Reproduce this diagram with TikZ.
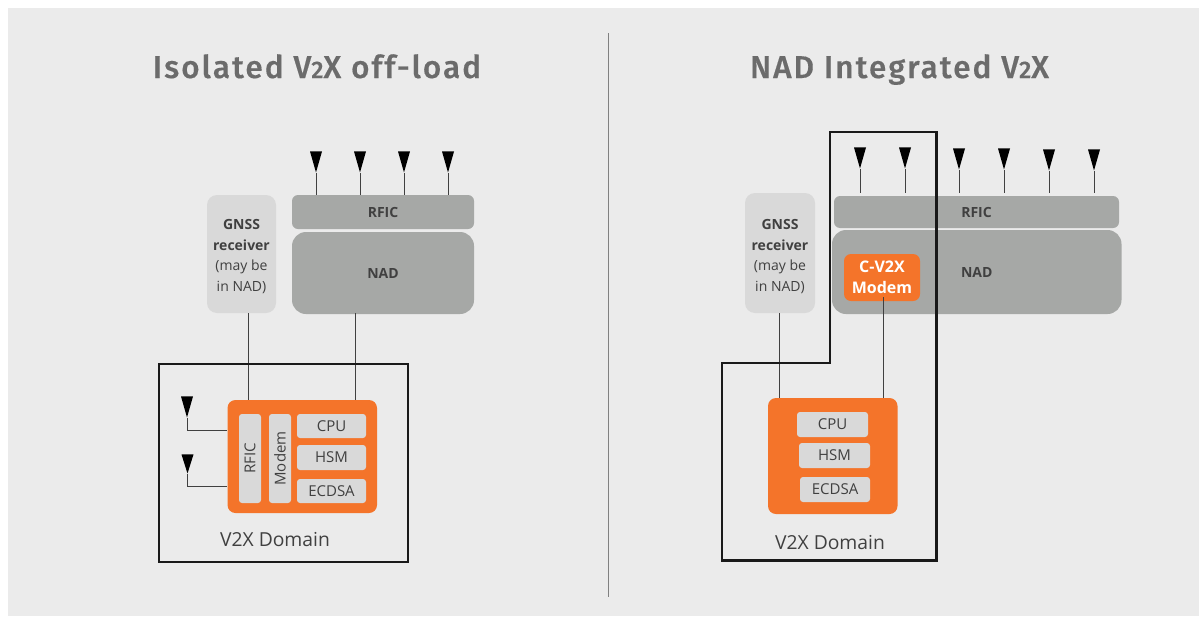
\documentclass[tikz,border=0pt]{standalone}
\usepackage{fontspec}
\setmainfont{Open Sans}
\newfontfamily\titlefont[LetterSpace=6.5,FakeBold=0.4]{Fira Sans Medium}
\usetikzlibrary{shapes.geometric}
\definecolor{panelgray}{HTML}{EBEBEB}
\definecolor{nadgray}{HTML}{A6A8A6}
\definecolor{lightgray}{HTML}{D9D9D9}
\definecolor{socorange}{HTML}{F4742A}
\definecolor{labelgray}{HTML}{404040}
\definecolor{titlegray}{HTML}{6B6B6B}
\newcommand{\smalltwo}{{\fontsize{24}{24}\selectfont 2}}
\tikzset{
    block/.style={rounded corners=#1, inner sep=0pt, align=center, text=labelgray, font=\fontsize{14}{20.5}\selectfont},
    block/.default=6pt,
    part/.style={block=3pt, fill=lightgray, font=\fontsize{15}{18}\selectfont},
    antenna/.style={isosceles triangle, isosceles triangle stretches, shape border rotate=270, fill=black, inner sep=0pt, minimum width=12pt, minimum height=21pt, anchor=apex},
    wire/.style={draw=labelgray, line width=1pt},
    domainbox/.style={draw=black!90, line width=2.8pt},
    heading/.style={font=\titlefont\fontsize{31.5}{34}\selectfont, text=titlegray, anchor=base},
    domainlabel/.style={font=\fontsize{19.3}{22}\selectfont, text=labelgray}
}
\begin{document}
\begin{tikzpicture}[x=1pt,y=-1pt]
    \useasboundingbox (0,0) rectangle (1199,616);
    \fill[panelgray] (8,8) rectangle (1199,616);
    \draw[gray, line width=1pt] (608,33) -- (608,597);
    \node[heading] (titleL) at (317,78) {Isolated V\smalltwo X off-load};
    \node[heading] (titleR) at (899.5,78) {NAD Integrated V\smalltwo X};
    % left part
    \node[block=10pt, fill=lightgray, minimum width=69pt, minimum height=118pt] (gnssL) at (241.5,254) {\rule{0pt}{15.5pt}\textbf{GNSS}\\\textbf{receiver}\\(may be\\in NAD)};
    \node[block, fill=nadgray, minimum width=182pt, minimum height=34pt] (rficL) at (383,212) {\textbf{RFIC}};
    \node[block=14pt, fill=nadgray, minimum width=182pt, minimum height=82pt] (nadL) at (383,273) {\textbf{NAD}};
    \node[block=8pt, fill=socorange, minimum width=149.5pt, minimum height=113pt] (socL) at (302.25,456.5) {};
    \node[part, minimum width=89pt, minimum height=22pt, rotate=90] (rficsmall) at (250,458.5) {RFIC};
    \node[part, minimum width=89pt, minimum height=22pt, rotate=90] (modemL) at (280,458.5) {Modem};
    \node[part, minimum width=69pt, minimum height=24pt] (cpuL) at (331.5,426) {CPU};
    \node[part, minimum width=69pt, minimum height=25pt] (hsmL) at (331.5,457.5) {HSM};
    \node[part, minimum width=69pt, minimum height=24pt] (ecdsaL) at (331.5,491) {ECDSA};
    \node[domainlabel] (domainL) at (275,540) {V2X Domain};
    \coordinate (gnssoutL) at (248,313);
    \coordinate (nadoutL) at (355.5,313);
    \draw[wire] (gnssoutL) -- (gnssoutL |- socL.north);
    \draw[wire] (nadoutL) -- (nadoutL |- socL.north);
    \foreach \i/\x in {1/316,2/360,3/404,4/448} {
        \node[antenna] (antL\i) at (\x,173) {};
        \draw[wire] (antL\i.apex) -- (antL\i.apex |- rficL.north);
    }
    \node[antenna] (antS1) at (187,418) {};
    \node[antenna, minimum height=19pt] (antS2) at (187.5,474) {};
    \draw[wire] (antS1.apex) |- (socL.west |- 0,430);
    \draw[wire] (antS2.apex) |- (socL.west |- 0,486);
    \draw[domainbox] (159,364) rectangle (408,562);
    % right part
    \node[block=10pt, fill=lightgray, minimum width=70pt, minimum height=120pt] (gnssR) at (780,253) {\rule{0pt}{17.5pt}\textbf{GNSS}\\\textbf{receiver}\\(may be\\in NAD)};
    \node[block, fill=nadgray, minimum width=285pt, minimum height=32pt] (rficR) at (976.5,212) {\textbf{RFIC}};
    \node[block=14pt, fill=nadgray, minimum width=289.5pt, minimum height=84pt] (nadR) at (976.75,272) {\textbf{NAD}};
    \node[block=7pt, fill=socorange, minimum width=76pt, minimum height=47pt, text=white, font=\fontsize{16}{21}\selectfont\bfseries] (cv2x) at (882,277.5) {C-V2X\\Modem};
    \node[block=8pt, fill=socorange, minimum width=129.5pt, minimum height=116pt] (socR) at (832.75,456) {};
    \node[part, minimum width=71pt, minimum height=25pt] (cpuR) at (832.5,424.5) {CPU};
    \node[part, minimum width=71pt, minimum height=25pt] (hsmR) at (834.5,455.5) {HSM};
    \node[part, minimum width=70pt, minimum height=25pt] (ecdsaR) at (835,489.5) {ECDSA};
    \node[domainlabel] (domainR) at (830,543) {V2X Domain};
    \coordinate (gnssoutR) at (779,313);
    \coordinate (modemoutR) at (883,297);
    \draw[wire] (gnssoutR) -- (gnssoutR |- socR.north);
    \draw[wire] (modemoutR) -- (modemoutR |- socR.north);
    \foreach \i/\x/\y in {1/860/169,2/905/169,3/959/170,4/1004/170,5/1049/171,6/1094/171} {
        \node[antenna] (antR\i) at (\x,\y) {};
        \draw[wire] (antR\i.apex) -- (\x,193);
    }
    \draw[domainbox] (722,363) -- (830,363) -- (830,132) -- (936.5,132) -- (936.5,560.5) -- (722,560.5) -- cycle;
\end{tikzpicture}
\end{document}
